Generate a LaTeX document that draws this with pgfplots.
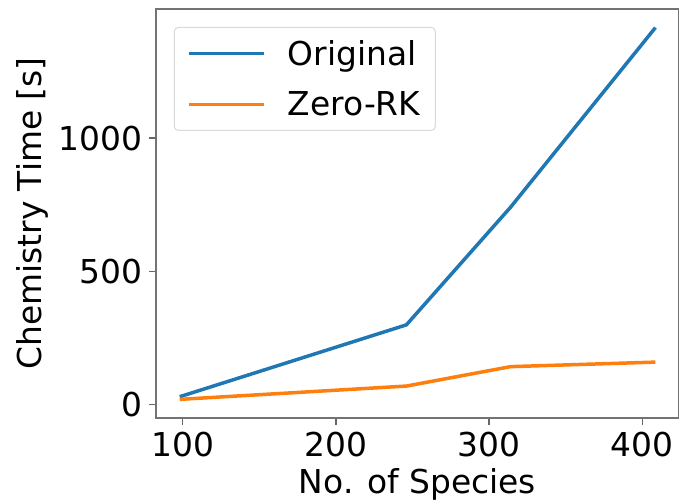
\documentclass[border=0pt]{standalone}
\usepackage{fontspec}
\setmainfont{DejaVu Sans}
\usepackage{pgfplots}
\pgfplotsset{compat=1.18}
\definecolor{tabblue}{HTML}{1F77B4}
\definecolor{taborange}{HTML}{FF7F0E}
\begin{document}
\begin{tikzpicture}
\begin{axis}[
  scale only axis,
  width=523bp, height=409bp,
  xmin=82.5, xmax=424, ymin=-52, ymax=1485,
  xtick={100,200,300,400}, ytick={0,500,1000},
  tick align=outside, major tick length=7bp,
  tick style={line width=1.2bp, color=black!60},
  xtick pos=bottom, ytick pos=left,
  axis line style={line width=1.8bp, color=black!55},
  /pgf/number format/assume math mode=true,
  /pgf/number format/1000 sep={},
  ticklabel style={font=\fontsize{33}{38}\selectfont},
  xticklabel style={yshift=-4bp},
  yticklabel style={xshift=-3bp},
  xlabel={No. of Species}, ylabel={Chemistry Time [s]},
  every axis y label/.style={at={(axis description cs:-0.237,0.5)}, rotate=90, anchor=center, font=\fontsize{33}{38}\selectfont},
  every axis x label/.style={at={(axis description cs:0.5,-0.184)}, anchor=base, font=\fontsize{33}{38}\selectfont},
  legend style={at={(axis description cs:0.034,0.956)}, anchor=north west,
    draw=black!15, line width=1bp, rounded corners=4bp, fill=white,
    font=\fontsize{33}{38}\selectfont, inner xsep=13bp, inner ysep=11bp,
    row sep=21bp},
  legend cell align=left,
  legend image code/.code={\draw[#1] (0bp,0bp) -- (75bp,0bp);},
]
\addplot[tabblue, line width=3.5bp] coordinates {(98,28) (246,298) (314,740) (408.6,1415)};
\addlegendentry{\hspace{20bp}Original}
\addplot[taborange, line width=3.5bp] coordinates {(98,18) (246,68) (314,141) (408.6,158)};
\addlegendentry{\hspace{20bp}Zero-RK}
\end{axis}
\pgfresetboundingbox
\path (current axis.south west) ++(-156bp,-86bp) rectangle ++(679bp,504bp);
\end{tikzpicture}
\end{document}
